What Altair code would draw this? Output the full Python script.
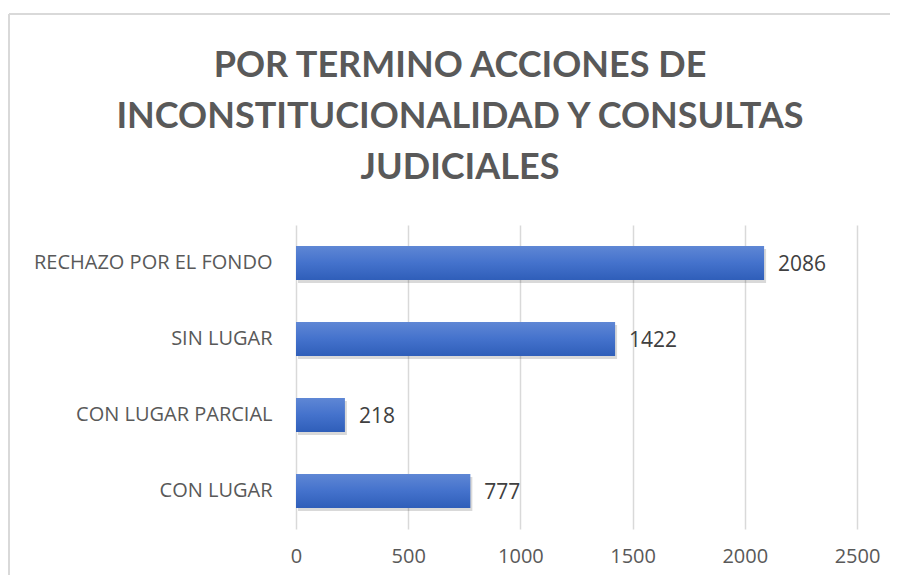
import altair as alt
import pandas as pd

categories = ["RECHAZO POR EL FONDO", "SIN LUGAR", "CON LUGAR PARCIAL", "CON LUGAR"]
values = [2086, 1422, 218, 777]
x_ticks = [0, 500, 1000, 1500, 2000, 2500]
title_lines = ["POR TERMINO ACCIONES DE", "INCONSTITUCIONALIDAD Y CONSULTAS", "JUDICIALES"]

df = pd.DataFrame({"cat": categories, "val": values})

FONT = "Open Sans"
TFONT = "Lato"
GRAY = "#595959"

x_enc = alt.X(
    "val:Q",
    scale=alt.Scale(domain=[0, 2500], nice=False),
    axis=alt.Axis(
        values=x_ticks, format="d", title=None, domain=False, ticks=False,
        grid=True, gridColor="#d9d9d9", gridWidth=1.5, labelFlush=False,
        labelFontSize=20, labelColor=GRAY, labelFont=FONT, labelPadding=17,
    ),
)
y_enc = alt.Y(
    "cat:N",
    sort=categories,
    scale=alt.Scale(paddingInner=0.55, paddingOuter=0.275),
    axis=alt.Axis(
        title=None, domain=False, ticks=False, grid=False, labelLimit=400,
        labelFontSize=20, labelColor=GRAY, labelFont=FONT, labelPadding=24,
    ),
)

grad = alt.Gradient(
    gradient="linear",
    stops=[
        alt.GradientStop(color="#5f87d5", offset=0),
        alt.GradientStop(color="#4472cc", offset=0.5),
        alt.GradientStop(color="#2f5eb9", offset=1),
    ],
    x1=0, x2=0, y1=0, y2=1,
)

base = alt.Chart(df)

shadow = base.mark_bar(color="#000000", opacity=0.15, xOffset=2, yOffset=3).encode(x=x_enc, y=y_enc)
bars = base.mark_bar(color=grad).encode(x=x_enc, y=y_enc)
labels = base.mark_text(
    align="left", baseline="middle", dx=14, dy=2, fontSize=21, font=FONT, color="#404040"
).encode(x=x_enc, y=y_enc, text="val:Q")

title = alt.Chart(pd.DataFrame({"a": [0]})).mark_text(
    text=title_lines, font=TFONT, fontSize=36, fontWeight="bold", color=GRAY,
    align="center", baseline="alphabetic", lineHeight=51,
).encode(x=alt.value(164), y=alt.value(-148))

frame_top = alt.Chart(pd.DataFrame({"a": [0]})).mark_rule(color="#d9d9d9", strokeWidth=2).encode(
    x=alt.value(-287), x2=alt.value(700), y=alt.value(-211)
)
frame_left = alt.Chart(pd.DataFrame({"a": [0]})).mark_rule(color="#d9d9d9", strokeWidth=2).encode(
    x=alt.value(-287), y=alt.value(-211), y2=alt.value(400)
)

chart = alt.layer(frame_top, frame_left, title, shadow, bars, labels).properties(
    width=561,
    height=304,
    padding={"left": 288, "top": 217, "right": 33, "bottom": 46},
    autosize=alt.AutoSizeParams(type="none"),
    background="white",
).configure_view(strokeWidth=0)

chart.save("out.html", embed_options={"renderer": "svg", "actions": False})
